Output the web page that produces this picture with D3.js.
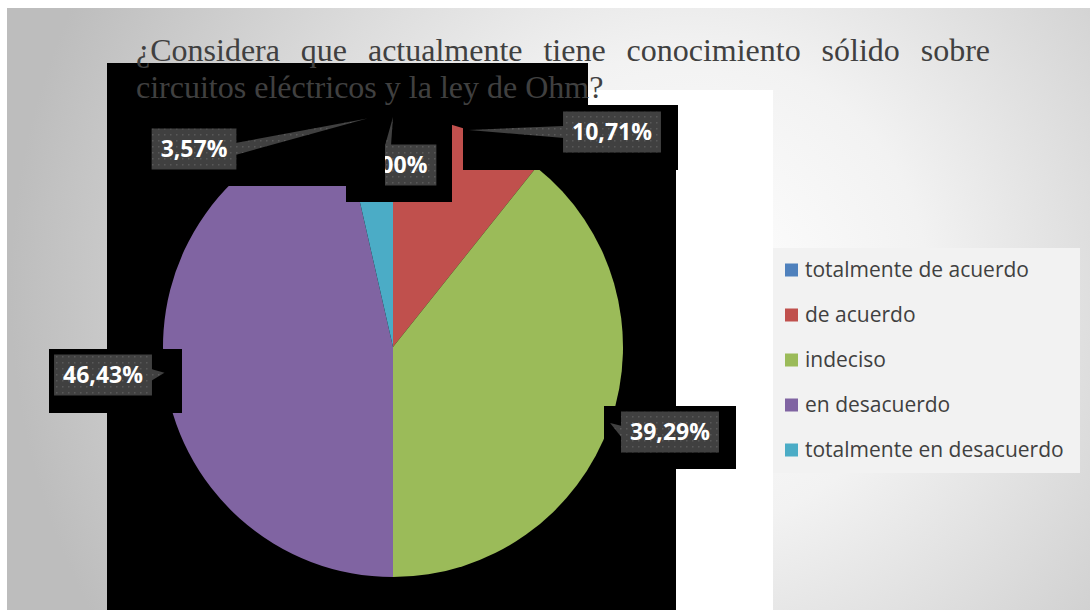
<!DOCTYPE html>
<html lang="es">
  <head>
    <meta charset="UTF-8" />
    <title>Conocimiento sobre circuitos</title>
    <script src="https://cdn.jsdelivr.net/npm/d3@7"></script>
    <style>
      body { margin: 0; background: #fff; }
      .title { font: 32px "Liberation Serif", "Times New Roman", serif; fill: #404040; }
      .lbl { font: bold 23px "Open Sans", sans-serif; fill: #fff; }
      .leg { font: 21px "Open Sans", sans-serif; fill: #404040; }
    </style>
  </head>
  <body>
    <svg width="1090" height="610"></svg>

    <script>
      // data
      var categories = [
        "totalmente de acuerdo",
        "de acuerdo",
        "indeciso",
        "en desacuerdo",
        "totalmente en desacuerdo",
      ];
      var values = [0, 10.71, 39.29, 46.43, 3.57];
      var colors = ["#4f81bd", "#c0504d", "#9bbb59", "#8064a2", "#4bacc6"];
      var titleLines = [
        "¿Considera que actualmente tiene conocimiento sólido sobre",
        "circuitos eléctricos y la ley de Ohm?",
      ];

      // label box centres (layout only)
      var labelPos = [
        [394, 165],
        [612, 132],
        [670, 432],
        [103, 375],
        [194, 149],
      ];

      var svg = d3.select("svg"),
        cx = 393,
        cy = 347,
        r = 230;

      var defs = svg.append("defs");
      var grad = defs
        .append("radialGradient")
        .attr("id", "bg")
        .attr("gradientUnits", "userSpaceOnUse")
        .attr("cx", 690)
        .attr("cy", 290)
        .attr("r", 680);
      grad.append("stop").attr("offset", 0).attr("stop-color", "#ffffff");
      grad.append("stop").attr("offset", 0.35).attr("stop-color", "#f2f2f2");
      grad.append("stop").attr("offset", 1).attr("stop-color", "#bdbdbd");

      var pat = defs
        .append("pattern")
        .attr("id", "dots")
        .attr("width", 6)
        .attr("height", 6)
        .attr("patternUnits", "userSpaceOnUse");
      pat.append("rect").attr("width", 6).attr("height", 6).attr("fill", "#404040");
      pat.append("rect").attr("x", 2).attr("y", 2).attr("width", 1.5).attr("height", 1.5).attr("fill", "#595959");

      svg.append("rect").attr("x", 7).attr("y", 8).attr("width", 1083).attr("height", 602).attr("fill", "url(#bg)");
      svg.append("rect").attr("x", 588).attr("y", 90).attr("width", 185).attr("height", 520).attr("fill", "#fff");

      // black plot area behind the pie
      svg
        .append("path")
        .attr("d", "M107,63H588V105H678V170H676V610H107Z")
        .attr("fill", "#000");

      // pie
      var pie = d3.pie().sort(null).value(function (d) { return d; });
      var arcs = pie(values);
      var arc = d3.arc().innerRadius(0).outerRadius(r);
      var edge = d3.arc().innerRadius(r).outerRadius(r);

      var g = svg.append("g").attr("transform", "translate(" + cx + "," + cy + ")");
      g.selectAll("path")
        .data(arcs)
        .enter()
        .append("path")
        .attr("d", arc)
        .attr("fill", function (d, i) { return colors[i]; });

      // black label shadows over the pie
      var shadows = [
        "M107,63H346V186H107Z",
        "M346,63H452V202H346Z",
        "M463,105H678V170H463Z",
        "M49,349H182V413H49Z",
        "M604,406H736V469H604Z",
      ];
      svg.selectAll("path.sh").data(shadows).enter().append("path").attr("class", "sh").attr("d", function (d) { return d; }).attr("fill", "#000");

      // title (drawn over the black area)
      var title = svg.append("g");
      var line1 = titleLines[0].split(" ");
      var words = title
        .selectAll("text.w")
        .data(line1)
        .enter()
        .append("text")
        .attr("class", "title w")
        .attr("y", 61)
        .text(function (d) { return d; });
      var widths = [];
      words.each(function () { widths.push(this.getComputedTextLength()); });
      var x0 = 136, x1 = 990;
      var gap = (x1 - x0 - d3.sum(widths)) / (line1.length - 1);
      var acc = x0;
      words.attr("x", function (d, i) {
        var x = acc;
        acc += widths[i] + gap;
        return x;
      });
      title.append("text").attr("class", "title").attr("x", x0).attr("y", 98).text(titleLines[1]);

      // data labels
      defs.append("clipPath").attr("id", "clip0").append("rect").attr("x", 385).attr("y", 0).attr("width", 705).attr("height", 610);

      var fmt = function (v) { return v.toFixed(2).replace(".", ",") + "%"; };
      var labels = svg
        .selectAll("g.label")
        .data(arcs)
        .enter()
        .append("g")
        .attr("class", "label")
        .attr("clip-path", function (d, i) { return i === 0 ? "url(#clip0)" : null; });

      labels.each(function (d, i) {
        var el = d3.select(this);
        var p = labelPos[i];
        var t = el.append("text").attr("class", "lbl").text(fmt(values[i]));
        var tw = t.node().getComputedTextLength();
        var w = tw + 18, h = 41;
        var bx = p[0] - w / 2, by = p[1] - h / 2;
        var c = edge.centroid(d);
        var tip = [cx + c[0], cy + c[1]];
        // callout wedge
        var base;
        if (tip[0] < bx) base = [[bx + 1, p[1] - 6], [bx + 1, p[1] + 6]];
        else if (tip[0] > bx + w) base = [[bx + w - 1, p[1] - 6], [bx + w - 1, p[1] + 6]];
        else base = [[tip[0] - 8, by + 1], [tip[0] - 2, by + 1]];
        el.insert("path", "text")
          .attr("d", "M" + tip + "L" + base[0] + "L" + base[1] + "Z")
          .attr("fill", "url(#dots)");
        el.insert("rect", "text")
          .attr("x", bx).attr("y", by).attr("width", w).attr("height", h)
          .attr("fill", "url(#dots)");
        t.attr("x", p[0]).attr("y", p[1] + 8).attr("text-anchor", "middle");
      });

      // legend
      var leg = svg.append("g").attr("transform", "translate(773,248)");
      leg.append("rect").attr("width", 307).attr("height", 225).attr("fill", "#f2f2f2");
      var items = leg
        .selectAll("g.item")
        .data(categories)
        .enter()
        .append("g")
        .attr("class", "item")
        .attr("transform", function (d, i) { return "translate(12," + (22 + i * 45) + ")"; });
      items.append("rect").attr("y", -6.5).attr("width", 13).attr("height", 13).attr("fill", function (d, i) { return colors[i]; });
      items.append("text").attr("class", "leg").attr("x", 20).attr("y", 7).text(function (d) { return d; });
    </script>
  </body>
</html>
